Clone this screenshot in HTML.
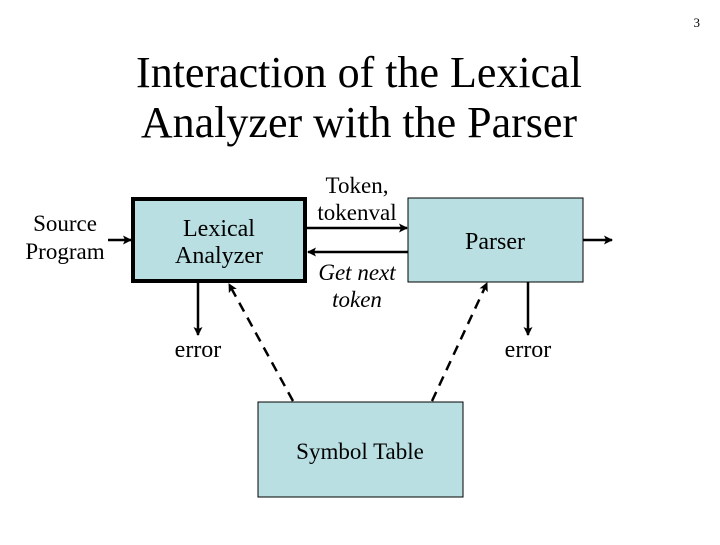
<!DOCTYPE html>
<html><head><style>
body{margin:0;background:#fff;}
svg text{font-family:"Liberation Serif",serif;fill:#000;}
</style></head><body>
<svg width="720" height="540" xmlns="http://www.w3.org/2000/svg">
<defs>
<marker id="a" markerWidth="9" markerHeight="9" refX="8" refY="4.5" orient="auto" markerUnits="userSpaceOnUse">
<path d="M0,0 L9,4.5 L0,9 L2,4.5 z" fill="#000"/></marker>
</defs>
<text x="700" y="27" font-size="13" text-anchor="end">3</text>
<text x="359" y="87" font-size="44" text-anchor="middle">Interaction of the Lexical</text>
<text x="359" y="137" font-size="44" text-anchor="middle">Analyzer with the Parser</text>
<rect x="133" y="199" width="172" height="82" fill="#b9dfe3" stroke="#000" stroke-width="4"/>
<rect x="408" y="198" width="175" height="84" fill="#b9dfe3" stroke="#000" stroke-width="1"/>
<rect x="258" y="402" width="205" height="95" fill="#b9dfe3" stroke="#000" stroke-width="1"/>
<text x="219" y="236" font-size="24" text-anchor="middle">Lexical</text>
<text x="219" y="263" font-size="24" text-anchor="middle">Analyzer</text>
<text x="495" y="249" font-size="24" text-anchor="middle">Parser</text>
<text x="360" y="459" font-size="23" text-anchor="middle">Symbol Table</text>
<text x="65" y="231" font-size="23" text-anchor="middle">Source</text>
<text x="65" y="259" font-size="23" text-anchor="middle">Program</text>
<text x="357" y="193" font-size="23" text-anchor="middle">Token,</text>
<text x="357" y="220" font-size="23" text-anchor="middle">tokenval</text>
<text x="357" y="280" font-size="23" font-style="italic" text-anchor="middle">Get next</text>
<text x="357" y="307" font-size="23" font-style="italic" text-anchor="middle">token</text>
<text x="198" y="357" font-size="24" text-anchor="middle">error</text>
<text x="528" y="357" font-size="24" text-anchor="middle">error</text>
<g stroke="#000" stroke-width="2.5" fill="none">
<line x1="108" y1="240" x2="131" y2="240" marker-end="url(#a)"/>
<line x1="307" y1="228" x2="407" y2="228" marker-end="url(#a)"/>
<line x1="408" y1="252" x2="308" y2="252" marker-end="url(#a)"/>
<line x1="583" y1="240" x2="612" y2="240" marker-end="url(#a)"/>
<line x1="198" y1="283" x2="198" y2="335" marker-end="url(#a)"/>
<line x1="528" y1="282" x2="528" y2="335" marker-end="url(#a)"/>
<line x1="293" y1="401" x2="229" y2="284" stroke-dasharray="10,7" marker-end="url(#a)"/>
<line x1="432" y1="401" x2="487" y2="283" stroke-dasharray="10,7" marker-end="url(#a)"/>
</g>
</svg>
</body></html>
